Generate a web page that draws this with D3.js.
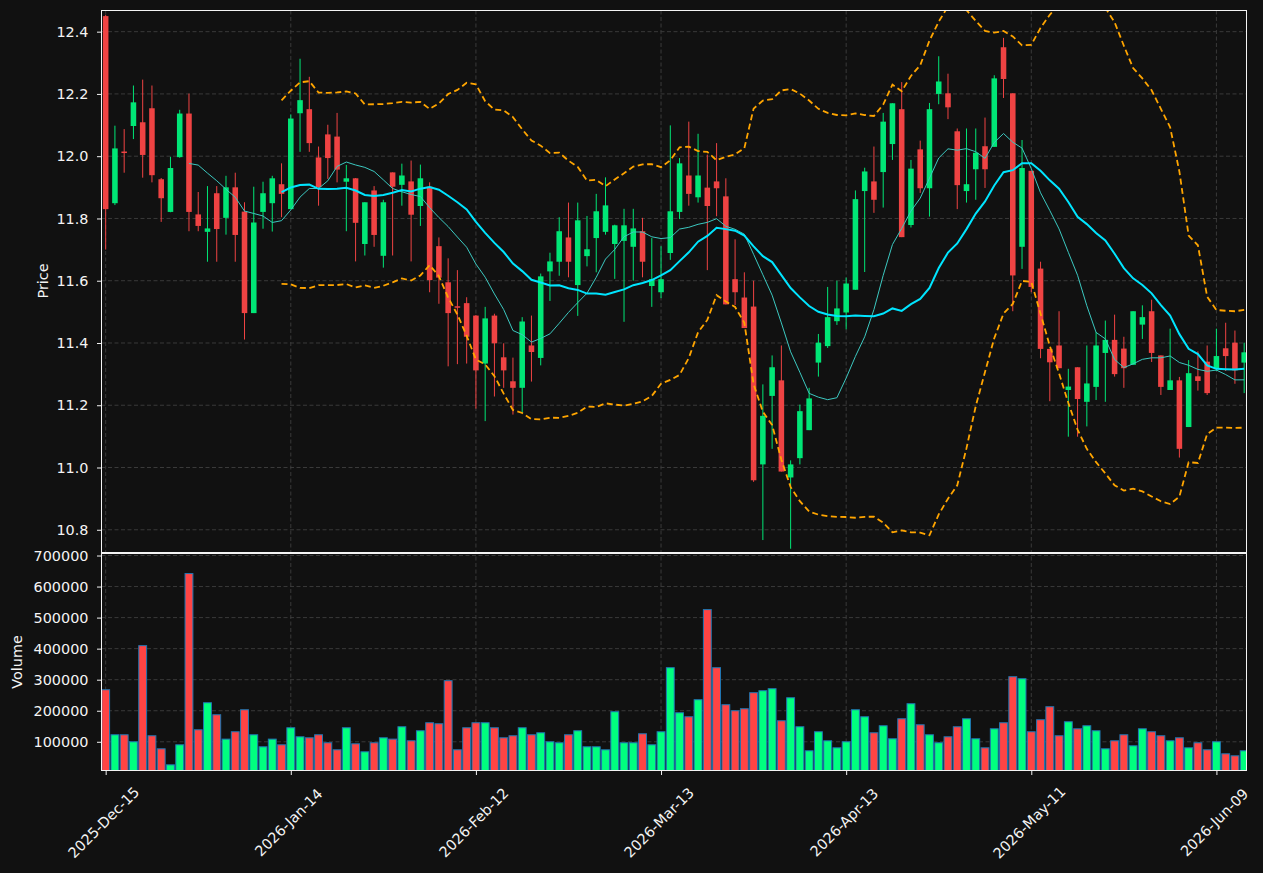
<!DOCTYPE html>
<html><head><meta charset="utf-8">
<script src="https://cdn.jsdelivr.net/npm/d3@7"></script>
<style>html,body{margin:0;padding:0;background:#111111;} svg{display:block;}</style>
</head><body>
<svg id="chart" width="1263" height="873"></svg>
<script>
// ---- data ----
const opens = [12.45,11.849,12.015,12.097,12.109,12.154,11.926,11.821,11.997,12.137,
11.813,11.757,11.881,11.802,11.900,11.822,11.496,11.821,11.849,11.910,
11.830,12.138,12.151,11.996,12.070,12.063,11.918,11.929,11.718,11.890,
11.680,11.948,11.908,11.919,11.840,11.902,11.711,11.595,11.518,11.528,
11.488,11.334,11.488,11.354,11.277,11.256,11.392,11.352,11.630,11.661,
11.739,11.586,11.679,11.737,11.757,11.718,11.728,11.709,11.759,11.583,
11.563,11.689,11.821,11.938,11.868,11.899,11.919,11.871,11.605,11.546,
11.517,11.010,11.230,11.280,10.968,11.030,11.120,11.337,11.390,11.470,
11.498,11.571,11.888,11.919,11.949,12.039,12.151,11.779,12.022,11.897,
12.200,12.202,12.080,11.888,11.958,12.032,12.030,12.350,12.202,11.709,
11.953,11.639,11.381,11.392,11.249,11.322,11.211,11.259,11.368,11.410,
11.382,11.330,11.459,11.502,11.360,11.249,11.280,11.130,11.293,11.340,
11.317,11.383,11.401,11.337];
const highs = [12.454,12.098,12.087,12.227,12.246,12.227,11.930,11.998,12.149,12.201,
11.885,11.904,11.904,11.937,11.947,11.852,11.902,11.918,11.937,11.977,
12.134,12.313,12.255,12.031,12.101,12.139,11.972,11.930,11.852,11.904,
11.860,11.948,11.976,11.986,11.973,11.916,11.739,11.672,11.634,11.547,
11.490,11.516,11.494,11.399,11.353,11.483,11.488,11.623,11.690,11.804,
11.851,11.851,11.808,11.879,11.932,11.780,11.831,11.831,11.802,11.737,
11.711,12.099,11.994,12.111,12.072,12.005,12.042,11.929,11.733,11.627,
11.600,11.267,11.360,11.392,11.023,11.202,11.256,11.429,11.580,11.600,
11.610,11.890,11.963,12.031,12.139,12.170,12.238,11.988,12.050,12.171,
12.321,12.265,12.089,12.089,12.089,12.124,12.260,12.380,12.202,12.052,
11.953,11.661,11.381,11.502,11.317,11.322,11.392,11.435,11.472,11.491,
11.420,11.502,11.521,11.539,11.360,11.446,11.291,11.345,11.373,11.392,
11.446,11.465,11.440,11.401];
const lows = [11.700,11.843,11.947,12.055,11.931,11.916,11.789,11.820,11.995,11.759,
11.759,11.661,11.661,11.748,11.661,11.411,11.496,11.767,11.758,11.804,
11.830,12.014,12.014,11.841,11.927,11.916,11.759,11.662,11.681,11.709,
11.642,11.681,11.841,11.662,11.776,11.563,11.526,11.325,11.332,11.334,
11.189,11.149,11.228,11.256,11.170,11.175,11.276,11.328,11.535,11.616,
11.611,11.487,11.646,11.627,11.748,11.606,11.468,11.600,11.611,11.516,
11.544,11.667,11.798,11.841,11.851,11.634,11.807,11.524,11.522,11.448,
10.954,10.767,11.060,10.987,10.739,11.010,11.120,11.292,11.384,11.458,
11.444,11.571,11.628,11.818,11.835,11.988,11.740,11.771,11.882,11.806,
12.167,12.119,11.830,11.851,11.860,11.898,12.030,12.187,11.502,11.638,
11.563,11.351,11.213,11.319,11.099,11.099,11.132,11.217,11.211,11.292,
11.256,11.330,11.413,11.339,11.233,11.249,11.032,11.130,11.247,11.233,
11.310,11.310,11.269,11.239];
const closes = [11.830,12.025,12.012,12.173,12.004,11.939,11.865,11.962,12.137,11.821,
11.776,11.768,11.766,11.900,11.747,11.496,11.787,11.881,11.929,11.879,
12.121,12.180,12.042,11.901,11.994,11.957,11.929,11.786,11.852,11.747,
11.852,11.902,11.938,11.812,11.929,11.602,11.610,11.496,11.515,11.420,
11.312,11.479,11.399,11.312,11.256,11.469,11.371,11.614,11.662,11.759,
11.661,11.794,11.701,11.823,11.842,11.778,11.778,11.768,11.661,11.605,
11.605,11.823,11.977,11.879,11.938,11.840,11.897,11.524,11.563,11.448,
10.959,11.166,11.322,10.987,11.010,11.181,11.222,11.401,11.483,11.511,
11.591,11.862,11.951,11.860,12.111,12.170,11.740,11.960,11.897,12.151,
12.240,12.157,11.907,11.910,12.011,11.958,12.250,12.248,11.617,11.962,
11.580,11.381,11.338,11.319,11.260,11.220,11.270,11.392,11.410,11.300,
11.319,11.502,11.483,11.368,11.259,11.280,11.060,11.303,11.278,11.239,
11.358,11.358,11.312,11.370];
const volumes = [267700,122600,122600,100000,409700,119400,77400,25800,90300,641900,
138700,225800,187100,108600,132300,203200,122600,83900,108600,90300,
145200,116100,112900,122600,96800,74200,145200,93500,67700,96800,
112900,108600,148400,103200,135500,161300,158100,296800,74200,145200,
161300,161300,145200,112900,119400,145200,122600,129000,100000,96800,
122600,135500,83900,83900,74200,196800,96800,96800,125800,90300,
132300,338700,193500,180600,235500,525800,338700,219400,200000,206500,
258100,264500,271000,167700,241900,148400,71000,132300,103200,80600,
100000,203200,180600,129000,151600,109700,174200,222600,154800,122600,
96800,116100,148400,174200,109700,80600,141900,161300,309700,303200,
132300,171000,212900,119400,164500,141900,151600,135500,77400,103200,
122600,87100,141900,132300,119400,103200,112900,80600,96800,74200,
100000,61300,54800,71000];
const tickIndex = [0,20,40,60,80,100,120];
const tickLabels = ["2025-Dec-15","2026-Jan-14","2026-Feb-12","2026-Mar-13","2026-Apr-13","2026-May-11","2026-Jun-09"];
const priceTicks = [10.8,11.0,11.2,11.4,11.6,11.8,12.0,12.2,12.4];
const volumeTicks = [100000,200000,300000,400000,500000,600000,700000];

// ---- indicators derived from closes ----
function rollMean(arr, n){ return arr.map((v,i)=> i<n-1 ? null : d3.mean(arr.slice(i-n+1,i+1))); }
function rollStd(arr, n){ return arr.map((v,i)=>{ if(i<n-1) return null; const s=arr.slice(i-n+1,i+1); const m=d3.mean(s); return Math.sqrt(d3.mean(s,d=>(d-m)*(d-m))); }); }
const ma10 = rollMean(closes,10);
const ma20 = rollMean(closes,20);
const sd20 = rollStd(closes,20);
const upper = ma20.map((m,i)=> m==null?null: m+2*sd20[i]);
const lower = ma20.map((m,i)=> m==null?null: m-2*sd20[i]);

// ---- layout ----
const L=101.5, R=1246.5, pTop=10.5, pBot=552.5, vTop=553.5, vBot=770.5;
const FONT = "'DejaVu Sans', sans-serif";
const FS = "14.4px";
const svg = d3.select("#chart");
svg.append("rect").attr("width",1263).attr("height",873).attr("fill","#111111");

const x = d3.scaleLinear().domain([-0.45,123.25]).range([L,R]);
const yP = d3.scaleLinear().domain([10.727,12.468]).range([pBot,pTop]);
const yV = d3.scaleLinear().domain([7500,706500]).range([vBot,vTop]);
const step = x(1)-x(0);

const defs = svg.append("defs");
defs.append("clipPath").attr("id","clipP").append("rect").attr("x",L).attr("y",pTop).attr("width",R-L).attr("height",pBot-pTop);
defs.append("clipPath").attr("id","clipV").append("rect").attr("x",L).attr("y",vTop).attr("width",R-L).attr("height",vBot-vTop);

const gridColor = "#3a3a3a";
const gP = svg.append("g").attr("clip-path","url(#clipP)");
const gV = svg.append("g").attr("clip-path","url(#clipV)");
[gP,gV].forEach(g=>{
  g.selectAll("line.vg").data(tickIndex).join("line").attr("class","vg")
   .attr("x1",d=>x(d)).attr("x2",d=>x(d)).attr("y1",pTop).attr("y2",vBot)
   .attr("stroke",gridColor).attr("stroke-width",1).attr("stroke-dasharray","4,2.5");
});
gP.selectAll("line.hg").data(priceTicks).join("line").attr("class","hg")
  .attr("x1",L).attr("x2",R).attr("y1",d=>yP(d)).attr("y2",d=>yP(d))
  .attr("stroke",gridColor).attr("stroke-width",1).attr("stroke-dasharray","4,2.5");
gV.selectAll("line.hg").data(volumeTicks).join("line").attr("class","hg")
  .attr("x1",L).attr("x2",R).attr("y1",d=>yV(d)).attr("y2",d=>yV(d))
  .attr("stroke",gridColor).attr("stroke-width",1).attr("stroke-dasharray","4,2.5");

const UP="#00e676", DN="#ef4343", VUP="#00ff7f", VDN="#ff4444";
const idx = d3.range(closes.length);

// candles
const cg = gP.append("g");
cg.selectAll("line.wick").data(idx).join("line")
  .attr("x1",i=>x(i)).attr("x2",i=>x(i)).attr("y1",i=>yP(highs[i])).attr("y2",i=>yP(lows[i]))
  .attr("stroke",i=>closes[i]>=opens[i]?UP:DN).attr("stroke-width",1);
const bw = step*0.6;
cg.selectAll("rect.body").data(idx).join("rect")
  .attr("x",i=>x(i)-bw/2).attr("width",bw)
  .attr("y",i=>yP(Math.max(opens[i],closes[i])))
  .attr("height",i=>Math.max(1.5,Math.abs(yP(opens[i])-yP(closes[i]))))
  .attr("fill",i=>closes[i]>=opens[i]?UP:DN);

// indicator lines
function mkLine(arr){ return d3.line().defined(i=>arr[i]!=null).x(i=>x(i)).y(i=>yP(arr[i])); }
gP.append("path").datum(idx).attr("d",mkLine(ma10)).attr("fill","none").attr("stroke","#3cc8c0").attr("stroke-width",1);
gP.append("path").datum(idx).attr("d",mkLine(ma20)).attr("fill","none").attr("stroke","#00e5ff").attr("stroke-width",2);
[upper,lower].forEach(b=>{
  gP.append("path").datum(idx).attr("d",mkLine(b)).attr("fill","none").attr("stroke","#ffa500")
    .attr("stroke-width",1.8).attr("stroke-dasharray","6,3.5");
});

// volume
const vw = step*0.85;
gV.selectAll("rect.vol").data(idx).join("rect")
  .attr("x",i=>x(i)-vw/2).attr("width",vw)
  .attr("y",i=>yV(volumes[i])).attr("height",i=>yV(0)-yV(volumes[i]))
  .attr("fill",i=>closes[i]>=opens[i]?VUP:VDN)
  .attr("stroke","#1f77b4").attr("stroke-width",1);

// frames
[[pTop,pBot],[vTop,vBot]].forEach(([t,b])=>{
  svg.append("rect").attr("x",L).attr("y",t).attr("width",R-L).attr("height",b-t)
    .attr("fill","none").attr("stroke","#f4f4f4").attr("stroke-width",1);
});

// axes
function styleAxis(g){
  g.select(".domain").remove();
  g.selectAll(".tick line").attr("stroke","#f4f4f4").attr("stroke-width",1);
  g.selectAll(".tick text").attr("fill","#f4f4f4").style("font-family",FONT).style("font-size",FS);
}
const axP = svg.append("g").attr("transform",`translate(${L},0)`)
  .call(d3.axisLeft(yP).tickValues(priceTicks).tickFormat(d3.format(".1f")).tickSize(4.5).tickPadding(8.5));
styleAxis(axP);
const axV = svg.append("g").attr("transform",`translate(${L},0)`)
  .call(d3.axisLeft(yV).tickValues(volumeTicks).tickFormat(d3.format("d")).tickSize(4.5).tickPadding(8.5));
styleAxis(axV);
const axX = svg.append("g").attr("transform",`translate(0,${vBot})`)
  .call(d3.axisBottom(x).tickValues(tickIndex).tickFormat((d,i)=>tickLabels[i]).tickSize(4.5).tickPadding(4));
styleAxis(axX);
axX.selectAll(".tick text").attr("text-anchor","middle").attr("dy",null).attr("y",null)
  .attr("dominant-baseline","central")
  .attr("transform","translate(-2.5,52) rotate(-45)");

svg.append("text").attr("transform","translate(48,281) rotate(-90)").attr("text-anchor","middle")
  .attr("fill","#f4f4f4").style("font-family",FONT).style("font-size",FS).text("Price");
svg.append("text").attr("transform","translate(22,662) rotate(-90)").attr("text-anchor","middle")
  .attr("fill","#f4f4f4").style("font-family",FONT).style("font-size",FS).text("Volume");
</script>
</body></html>
